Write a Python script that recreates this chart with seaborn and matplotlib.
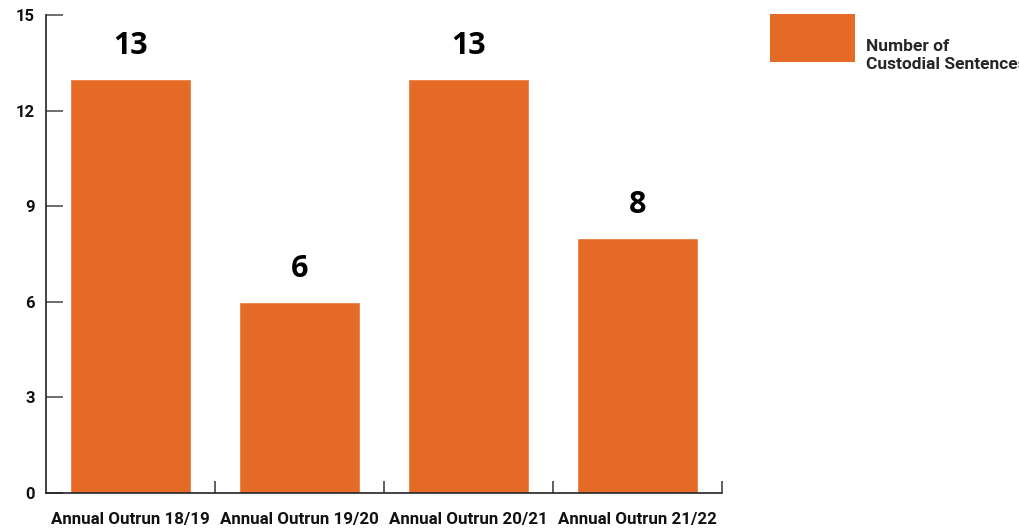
import numpy as np
import pandas as pd
import seaborn as sns
import matplotlib.pyplot as plt
from matplotlib.patches import Patch

# data
categories = ['Annual Outrun 18/19', 'Annual Outrun 19/20', 'Annual Outrun 20/21', 'Annual Outrun 21/22']
values = [13, 6, 13, 8]
series_name = 'Number of\nCustodial Sentences'
yticks = [0, 3, 6, 9, 12, 15]

bar_color = '#E56A25'

sns.set_style('white')
plt.rcParams['font.family'] = ['Roboto', 'DejaVu Sans']

df = pd.DataFrame({'period': categories, 'count': values})

fig = plt.figure(figsize=(10.2, 5.29), dpi=100)
ax = fig.add_axes([46 / 1020, 36 / 529, 676 / 1020, 478 / 529])

sns.barplot(data=df, x='period', y='count', color=bar_color, width=0.72,
            saturation=1, ax=ax)

ax.set_xlim(-0.5, 3.5)
ax.set_ylim(0, 15)
ax.set_xlabel('')
ax.set_ylabel('')

# value labels above bars
for c in ax.containers:
    ax.bar_label(c, padding=13, fontsize=22, fontweight='bold',
                 family='Open Sans', color='black')

# spines
for s in ['top', 'right']:
    ax.spines[s].set_visible(False)
for s in ['left', 'bottom']:
    ax.spines[s].set_color('#222222')
    ax.spines[s].set_linewidth(1.2)

# y ticks
ax.set_yticks(yticks)
ax.set_yticklabels([str(v) for v in yticks], fontsize=12, fontweight='bold')
ax.tick_params(axis='y', left=True, direction='in', length=12, width=1.2,
               color='#555555', pad=8, labelcolor='#111111')

# x ticks: labels at centers, tick marks at boundaries
ax.set_xticks(range(len(categories)))
ax.set_xticklabels(categories, fontsize=12.2, fontweight='bold')
ax.tick_params(axis='x', which='major', bottom=True, length=0, pad=13.5,
               labelcolor='#111111')
ax.set_xticks([0.5, 1.5, 2.5, 3.5], minor=True)
ax.tick_params(axis='x', which='minor', bottom=True, direction='in', length=9,
               width=1.2, color='#444444')

# legend
handle = Patch(facecolor=bar_color, edgecolor='none')
leg = fig.legend([handle], [series_name], loc='upper left',
                 bbox_to_anchor=(770 / 1020, 1 - 14 / 529),
                 frameon=False, borderpad=0, borderaxespad=0,
                 handlelength=4.9, handleheight=3.87, handletextpad=0.63,
                 prop={'family': 'Roboto', 'weight': 'bold', 'size': 12.5})
# push the label down next to the lower part of the swatch
leg.get_texts()[0].set_position((0, -19))

fig.savefig('out.png', dpi=100)
